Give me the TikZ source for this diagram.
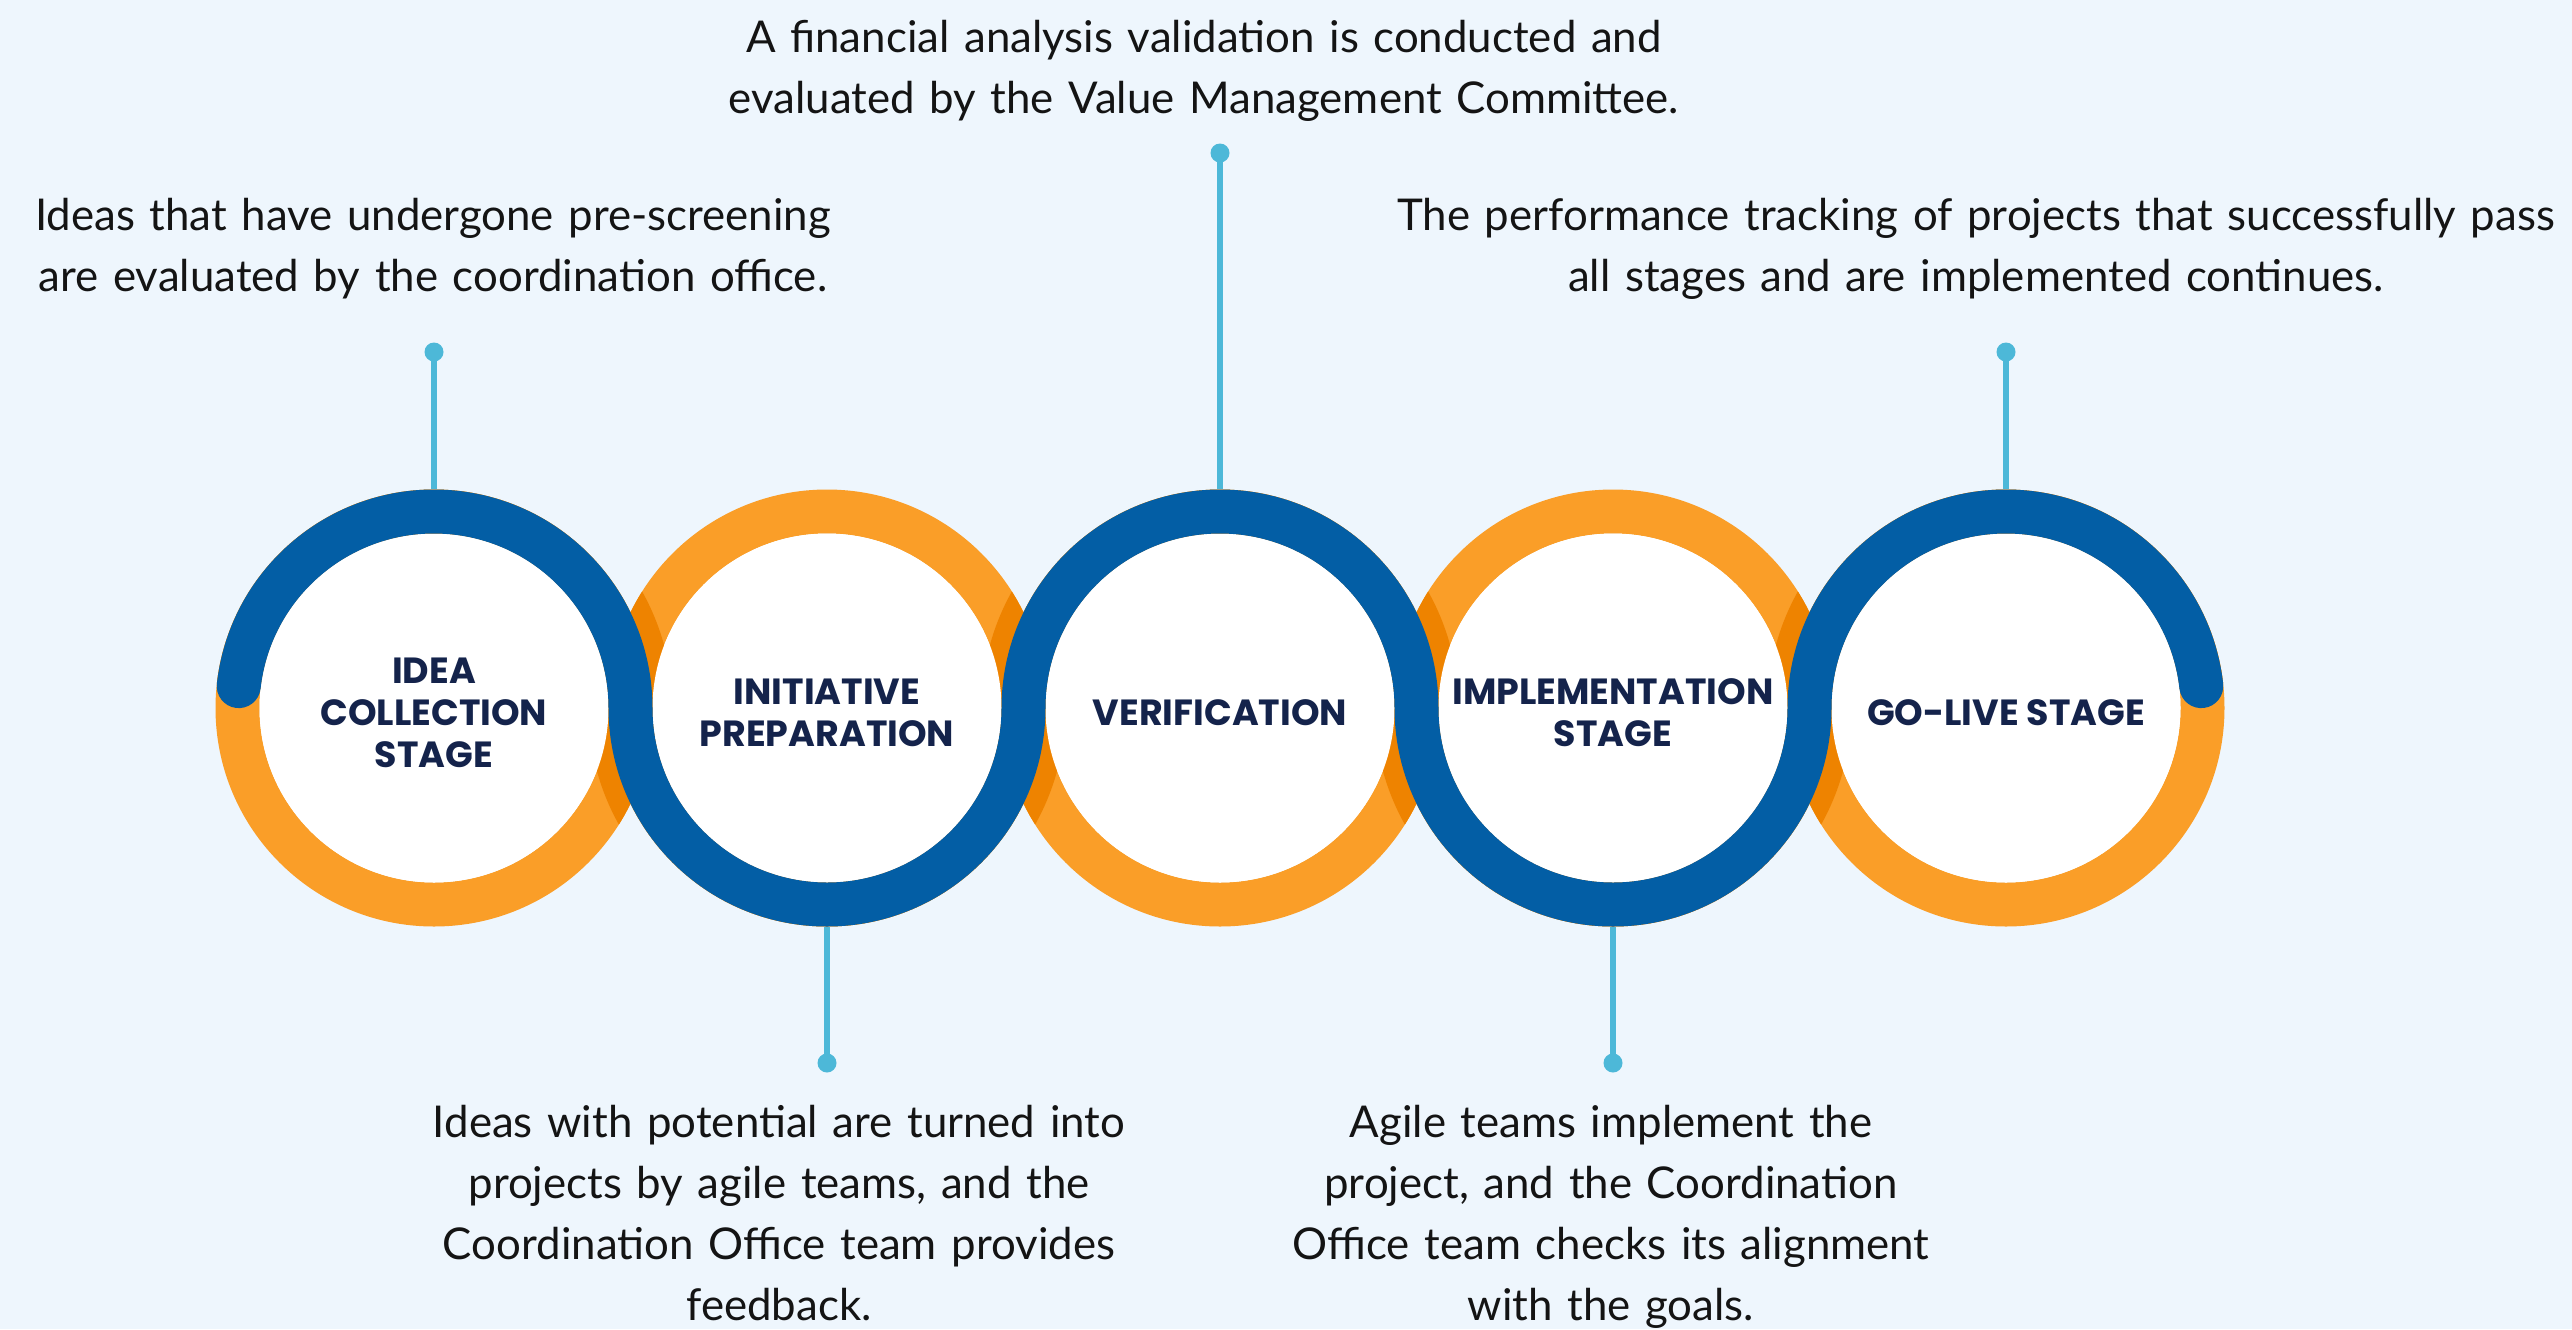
\documentclass[tikz,border=0pt]{standalone}
\usepackage{fontspec}
\setmainfont{Lato}
\newfontfamily\labelfont{Poppins}
\definecolor{bgc}{HTML}{EEF6FD}
\definecolor{ringor}{HTML}{FA9E28}
\definecolor{ringdk}{HTML}{EE8300}
\definecolor{ringbl}{HTML}{035EA5}
\definecolor{connc}{HTML}{4DB8D8}
\definecolor{navy}{HTML}{14234B}
\definecolor{bodyc}{HTML}{141414}
\begin{document}
\begin{tikzpicture}[x=0.5pt,y=-0.5pt,
  stage/.style={circle,minimum size=218.5pt,inner sep=0pt,draw=none},
  stagelabel/.style={inner sep=0pt,align=center,text=navy,
    font={\labelfont\bfseries\fontsize{18.2pt}{21pt}\selectfont}},
  desc/.style={inner sep=0pt,anchor=base,text width=650pt,align=center,text=bodyc,
    font={\fontsize{21.9pt}{30.5pt}\selectfont}},
  dot/.style={circle,fill=connc,minimum size=9.5pt,inner sep=0pt},
  conn/.style={draw=connc,line width=3pt},
  bluepath/.style={draw=ringbl,line width=22pt,line cap=round},
  darkband/.style={draw=ringdk,line width=42pt,line cap=butt}]
\fill[bgc] (0,0) rectangle (2572,1329);
\useasboundingbox (0,0) rectangle (2572,1329);
% stage anchors
\node[stage] (s1) at (434,708) {};
\node[stage] (s2) at (827,708) {};
\node[stage] (s3) at (1220,708) {};
\node[stage] (s4) at (1613,708) {};
\node[stage] (s5) at (2006,708) {};
% orange rings
\foreach \s in {s1,s2,s3,s4,s5}
  \fill[ringor,even odd rule] (\s.center) circle[radius=218.5] (\s.center) circle[radius=174.5];
% darker orange where the blue band passes over the neighbouring ring
\begin{scope}
\clip (s1.center) circle[radius=218.5] (s2.center) circle[radius=218.5]
      (s3.center) circle[radius=218.5] (s4.center) circle[radius=218.5]
      (s5.center) circle[radius=218.5];
\draw[darkband] ([shift={(186.4:196.5)}]s1.center)
  arc[start angle=186.4,end angle=360,radius=196.5]
  arc[start angle=180,end angle=0,radius=196.5]
  arc[start angle=180,end angle=360,radius=196.5]
  arc[start angle=180,end angle=0,radius=196.5]
  arc[start angle=180,end angle=353.6,radius=196.5];
\end{scope}
% white discs
\foreach \s in {s1,s2,s3,s4,s5}
  \fill[white] (\s.center) circle[radius=174.5];
% blue band
\draw[bluepath] ([shift={(186.4:196.5)}]s1.center)
  arc[start angle=186.4,end angle=360,radius=196.5]
  arc[start angle=180,end angle=0,radius=196.5]
  arc[start angle=180,end angle=360,radius=196.5]
  arc[start angle=180,end angle=0,radius=196.5]
  arc[start angle=180,end angle=353.6,radius=196.5];
% stage labels
\node[stagelabel] (t1) at (434,713) {IDEA\\COLLECTION\\STAGE};
\node[stagelabel] (t2) at (827,713) {INITIATIVE\\PREPARATION};
\node[stagelabel] (t3) at (1220,713) {VERIFICATION};
\node[stagelabel] (t4) at (1613,713) {IMPLEMENTATION\\STAGE};
\node[stagelabel] (t5) at (2006,713) {GO-LIVE STAGE};
% connector dots
\node[dot] (d1) at (434,352) {};
\node[dot] (d2) at (827,1063) {};
\node[dot] (d3) at (1220,153) {};
\node[dot] (d4) at (1613,1063) {};
\node[dot] (d5) at (2006,352) {};
\draw[conn] (d1.center) -- (s1.north);
\draw[conn] (d2.center) -- (s2.south);
\draw[conn] (d3.center) -- (s3.north);
\draw[conn] (d4.center) -- (s4.south);
\draw[conn] (d5.center) -- (s5.north);
% descriptions
\node[desc] (e1) at (433,230) {Ideas that have undergone pre-screening\\are evaluated by the coordination office.};
\node[desc] (e3) at (1204,52) {A financial analysis validation is conducted and\\evaluated by the Value Management Committee.};
\node[desc] (e5) at (1976,230) {The performance tracking of projects that successfully pass\\all stages and are implemented continues.};
\node[desc] (e2) at (779,1137) {Ideas with potential are turned into\\projects by agile teams, and the\\Coordination Office team provides\\feedback.};
\node[desc] (e4) at (1611,1137) {Agile teams implement the\\project, and the Coordination\\Office team checks its alignment\\with the goals.};
\end{tikzpicture}
\end{document}
